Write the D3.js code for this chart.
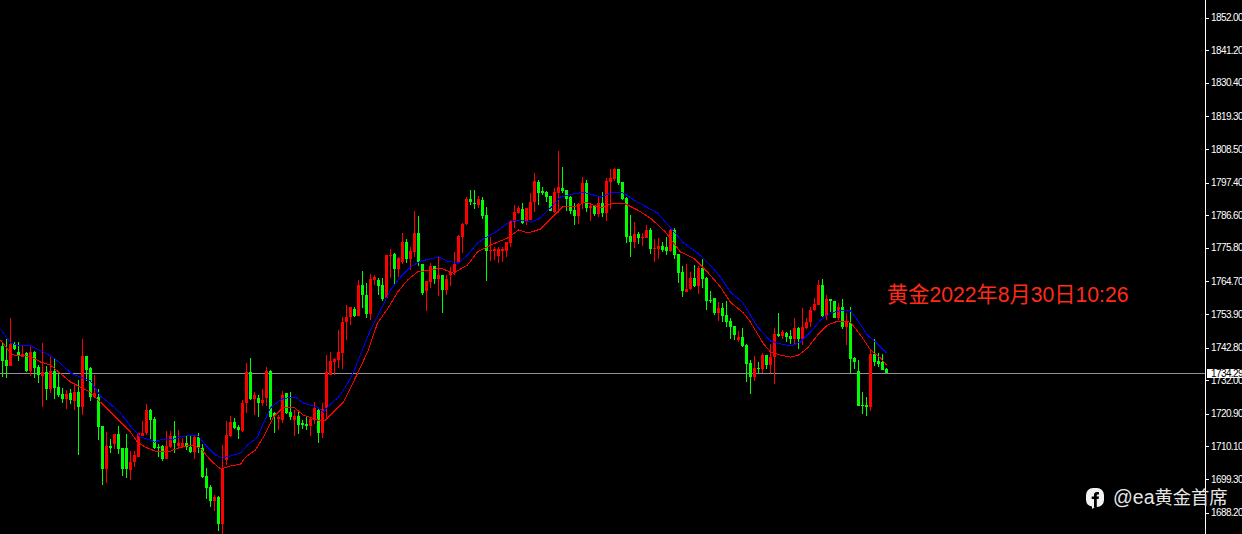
<!DOCTYPE html>
<html lang="zh">
<head>
<meta charset="UTF-8">
<title>黄金</title>
<script src="https://d3js.org/d3.v7.min.js"></script>
<style>
html,body{margin:0;padding:0;background:#000;overflow:hidden}
svg{display:block}
.axis text{font:10px "Liberation Sans",Arial,sans-serif;fill:#fff;letter-spacing:-0.6px}
.axis line{stroke:#fff}
.axis path{display:none}
</style>
</head>
<body>
<svg id="chart" width="1242" height="534"></svg>
<script>
// candles, oldest first
const highs = [
1744.3,1745.6,1752.6,1744.6,1744.6,1743.3,1741.3,1743.0,1741.7,1736.9,
1744.3,1736.6,1739.7,1739.4,1734.3,1729.4,1728.7,1729.0,1730.3,1732.0,
1745.6,1740.0,1736.3,1733.6,1729.0,1716.8,1714.8,1712.5,1714.2,1716.8,
1709.6,1714.2,1708.6,1708.6,1714.5,1718.5,1724.1,1722.4,1719.8,1710.9,
1710.5,1715.2,1715.2,1718.5,1715.5,1712.9,1713.5,1713.5,1713.8,1714.5,
1710.9,1702.9,1697.2,1693.9,1693.6,1710.5,1718.5,1720.1,1719.5,1717.1,
1725.4,1737.6,1739.4,1728.0,1727.0,1729.0,1736.3,1735.3,1721.4,1720.4,
1728.4,1727.7,1728.0,1722.1,1721.4,1718.8,1719.8,1719.8,1724.7,1722.8,
1724.4,1740.3,1741.3,1739.4,1748.6,1752.9,1756.8,1756.2,1756.2,1765.1,
1768.1,1764.1,1767.1,1766.7,1765.8,1765.8,1773.4,1775.4,1774.1,1772.8,
1780.7,1778.7,1776.1,1788.0,1786.3,1770.4,1764.8,1770.7,1769.7,1772.8,
1766.7,1766.7,1769.4,1774.4,1780.0,1784.0,1792.6,1794.9,1794.9,1792.9,
1792.6,1789.3,1779.4,1776.1,1776.1,1776.1,1777.7,1785.0,1789.9,1789.6,
1790.6,1789.0,1793.9,1800.5,1798.2,1795.9,1794.6,1792.9,1795.6,1807.9,
1802.5,1794.9,1792.9,1790.6,1790.6,1799.2,1798.2,1790.6,1789.9,1792.6,
1794.2,1798.9,1801.8,1802.2,1801.8,1797.5,1792.6,1786.6,1784.3,1781.0,
1780.7,1783.3,1782.4,1778.7,1779.1,1777.7,1779.4,1782.7,1782.4,1773.8,
1769.7,1770.4,1767.7,1770.0,1769.7,1772.1,1766.1,1761.5,1759.2,1757.8,
1757.5,1758.2,1752.6,1749.9,1748.3,1749.3,1744.0,1738.6,1740.0,1737.9,
1741.0,1740.3,1744.0,1749.3,1754.2,1748.6,1747.9,1748.6,1752.6,1749.6,
1755.9,1752.6,1756.2,1759.2,1765.1,1765.4,1760.1,1758.8,1758.2,1757.5,
1758.8,1754.2,1756.2,1739.7,1738.6,1728.0,1726.3,1742.0,1745.6,1741.0,
1740.7,1736.0];
const lows = [
1733.0,1732.7,1736.6,1742.0,1738.3,1739.6,1734.6,1733.3,1732.7,1731.0,
1723.1,1725.4,1727.7,1725.7,1726.3,1724.4,1722.4,1724.1,1722.1,1707.2,
1720.4,1731.7,1725.0,1726.0,1712.2,1697.2,1697.9,1707.9,1709.2,1707.5,
1700.2,1699.6,1698.9,1703.2,1706.5,1713.5,1713.8,1712.2,1709.2,1706.5,
1705.2,1705.9,1709.6,1707.9,1709.2,1709.6,1708.9,1707.9,1705.9,1707.9,
1699.6,1692.6,1690.0,1688.7,1682.0,1681.0,1703.9,1713.2,1715.8,1712.5,
1714.8,1721.1,1725.4,1720.4,1719.8,1723.4,1723.4,1718.8,1714.5,1715.5,
1717.8,1720.8,1718.8,1713.5,1714.2,1715.8,1715.5,1713.5,1717.5,1711.2,
1712.9,1718.8,1733.6,1733.6,1736.0,1735.6,1745.3,1750.2,1752.9,1753.2,
1755.8,1752.6,1751.9,1763.4,1760.1,1758.2,1758.8,1765.8,1763.8,1766.1,
1770.4,1770.7,1768.4,1772.8,1769.7,1760.1,1754.8,1762.5,1763.8,1759.8,
1754.2,1760.1,1763.1,1766.7,1770.7,1774.1,1783.3,1790.0,1788.6,1788.9,
1785.3,1764.8,1771.4,1771.7,1770.7,1771.1,1772.8,1776.1,1782.4,1786.9,
1783.7,1783.3,1785.0,1787.6,1790.0,1793.3,1791.0,1788.0,1787.3,1787.3,
1793.9,1788.0,1787.0,1783.3,1783.7,1788.6,1787.6,1784.7,1786.3,1786.0,
1786.0,1784.7,1788.6,1797.9,1796.6,1791.6,1777.4,1772.8,1775.7,1777.1,
1776.4,1779.1,1773.8,1771.1,1772.1,1774.4,1773.4,1774.4,1772.1,1764.1,
1759.5,1761.1,1761.8,1762.8,1760.5,1762.5,1755.2,1757.5,1753.6,1751.6,
1751.2,1749.6,1745.6,1745.3,1744.6,1742.9,1731.4,1727.4,1731.7,1734.3,
1734.3,1735.6,1734.3,1730.7,1746.3,1745.6,1744.6,1743.9,1743.9,1742.3,
1743.6,1748.9,1749.6,1754.8,1756.8,1752.9,1751.9,1754.5,1752.6,1751.9,
1748.9,1743.6,1734.3,1735.6,1723.4,1720.8,1720.1,1721.8,1736.6,1736.3,
1735.3,1734.3];
const opens = [
1743.3,1738.6,1736.6,1744.0,1741.3,1739.7,1741.0,1735.0,1741.3,1736.3,
1733.3,1734.6,1729.0,1735.0,1729.7,1727.4,1725.7,1727.7,1725.1,1728.0,
1723.1,1740.0,1736.0,1726.4,1726.4,1716.8,1702.5,1710.2,1710.9,1714.2,
1709.5,1709.5,1702.2,1704.9,1706.5,1713.5,1714.5,1722.1,1719.1,1709.8,
1710.2,1705.9,1709.8,1713.5,1710.2,1710.2,1711.2,1709.8,1708.2,1713.2,
1709.5,1700.2,1696.6,1692.0,1693.3,1684.4,1705.5,1713.5,1718.1,1716.5,
1715.1,1724.4,1734.7,1725.7,1726.1,1724.4,1726.1,1735.0,1721.1,1719.1,
1718.8,1727.7,1721.4,1718.8,1720.1,1717.8,1717.5,1716.8,1718.8,1722.1,
1714.5,1722.8,1733.7,1738.0,1738.6,1741.0,1751.2,1752.9,1755.5,1753.2,
1763.5,1760.2,1753.9,1765.1,1765.1,1763.5,1759.2,1773.1,1773.7,1768.8,
1771.1,1777.7,1772.1,1774.4,1780.7,1770.4,1761.5,1764.5,1769.8,1765.4,
1766.8,1761.8,1766.8,1767.8,1771.1,1779.4,1783.7,1791.9,1790.6,1789.9,
1791.6,1786.6,1774.7,1774.7,1773.1,1774.7,1774.7,1777.4,1784.3,1787.3,
1788.6,1784.3,1785.0,1790.9,1797.6,1794.6,1794.2,1792.9,1787.6,1793.9,
1795.6,1794.9,1792.6,1788.3,1786.3,1790.6,1797.2,1789.0,1789.6,1787.0,
1790.6,1787.3,1797.6,1798.5,1801.9,1797.6,1792.3,1779.7,1777.7,1780.3,
1779.0,1779.0,1781.7,1775.4,1775.4,1776.4,1776.0,1774.7,1781.7,1773.7,
1767.8,1761.1,1762.1,1765.8,1763.1,1769.1,1765.8,1758.5,1759.2,1754.2,
1755.9,1753.5,1751.5,1749.9,1745.3,1746.3,1743.6,1737.6,1733.0,1736.0,
1735.7,1740.3,1737.0,1739.6,1747.2,1746.6,1747.6,1746.6,1745.6,1749.2,
1745.6,1749.2,1751.2,1755.2,1756.8,1763.5,1753.2,1758.8,1758.2,1752.5,
1756.2,1749.6,1750.9,1739.3,1735.0,1723.7,1723.7,1723.1,1740.6,1738.3,
1738.0,1735.7];
const closes = [
1738.3,1736.6,1744.0,1742.3,1740.0,1740.6,1735.0,1741.3,1736.0,1733.7,
1734.7,1729.0,1735.0,1729.4,1727.1,1725.7,1727.4,1725.4,1728.0,1723.1,
1740.0,1735.3,1726.4,1727.7,1716.5,1702.5,1710.2,1709.5,1714.2,1709.2,
1702.5,1702.5,1704.9,1707.2,1714.5,1714.5,1722.1,1718.8,1709.5,1709.5,
1705.9,1710.2,1713.5,1711.2,1711.2,1711.2,1709.8,1708.2,1713.2,1709.5,
1699.9,1696.3,1692.0,1693.3,1684.4,1702.9,1713.8,1718.1,1716.1,1715.5,
1724.4,1734.7,1725.7,1727.0,1724.4,1725.4,1735.0,1719.8,1720.1,1719.8,
1727.0,1721.1,1719.8,1720.1,1717.1,1717.1,1716.8,1719.1,1722.8,1714.5,
1722.4,1734.7,1738.3,1739.0,1741.3,1751.2,1752.9,1756.2,1753.2,1763.5,
1760.2,1753.9,1765.4,1766.1,1763.1,1758.8,1773.4,1773.4,1768.8,1772.4,
1777.7,1772.1,1774.7,1780.7,1771.1,1760.8,1764.8,1769.8,1765.4,1766.8,
1761.8,1765.4,1767.8,1770.4,1779.7,1783.7,1791.9,1790.9,1790.3,1791.9,
1786.3,1774.7,1775.0,1775.4,1775.4,1775.4,1777.7,1784.6,1787.6,1789.0,
1784.0,1789.0,1790.9,1797.9,1793.9,1793.9,1792.6,1788.0,1794.2,1795.9,
1794.6,1791.9,1788.0,1786.3,1790.3,1797.2,1789.0,1789.6,1787.0,1790.6,
1787.3,1797.9,1798.9,1801.9,1797.2,1791.9,1779.4,1777.7,1780.3,1779.0,
1779.4,1781.7,1775.4,1775.7,1776.4,1775.0,1774.7,1781.7,1773.4,1767.4,
1761.5,1762.1,1765.8,1763.1,1769.1,1765.4,1758.2,1758.2,1754.2,1755.9,
1753.2,1751.2,1749.6,1746.9,1746.3,1743.3,1737.3,1733.0,1736.0,1735.7,
1740.3,1737.0,1739.6,1747.2,1746.6,1747.9,1746.3,1745.6,1749.2,1745.6,
1749.6,1751.2,1755.2,1757.2,1763.5,1753.2,1758.8,1758.2,1752.5,1756.2,
1749.6,1751.5,1739.0,1738.0,1723.4,1723.4,1723.1,1740.6,1738.0,1737.3,
1735.3,1734.3];

// moving averages, read at these bar positions
const blueBars = [-0.5,2,4.5,7,9.5,12,14.5,17,19.5,22,24.5,27,29.5,32,34.5,37,38,39.5,42,44.5,47,49,50.75,53.25,55,59.5,61.25,63.75,65.25,67,68.75,70.25,73.25,75.25,78.75,80.25,82,84,85.75,87.75,90.25,92,94.5,97,99.5,102,104.5,107,109,111.25,114,116.25,118.75,120.75,123.75,127,129.5,132,134,137,139.5,142.75,145.25,149.5,152.75,155.25,158.75,163.75,167,170.25,173.75,177,179.5,182,185,188.75,192,194.5,197,199.5,202,204.5,207,210.25,212,213.75,216.25,218.75,221];
const blueValues = [1748.9,1744.3,1743.3,1743.3,1741.7,1740.0,1737.6,1734.3,1733.0,1731.7,1726.7,1724.1,1721.1,1716.8,1713.2,1712.2,1711.5,1712.2,1712.2,1713.2,1713.8,1713.5,1710.5,1707.2,1706.2,1707.9,1710.5,1713.2,1717.8,1722.8,1724.7,1726.0,1726.3,1724.4,1723.1,1721.4,1724.1,1726.3,1729.7,1734.6,1743.0,1748.6,1755.2,1761.8,1766.1,1769.4,1771.4,1772.1,1772.8,1771.4,1770.7,1773.4,1777.4,1779.1,1781.4,1784.7,1785.0,1784.3,1785.3,1789.0,1792.6,1793.6,1794.2,1792.6,1794.2,1793.9,1790.9,1787.3,1782.4,1777.4,1774.1,1770.0,1766.1,1761.1,1757.8,1749.6,1744.9,1744.0,1743.3,1744.6,1747.9,1751.9,1754.2,1755.2,1754.9,1751.9,1746.9,1744.0,1741.0];
const redBars = [-0.5,2,3.25,5.75,7.75,9.5,12,14,17,19.5,22,24.5,27,29.5,32,33.75,35.75,38.25,42,44.5,47,49.5,52,54.5,57,59.5,60.75,63.25,65.25,67.75,70,72.75,75.25,78.75,80.75,83.25,85.25,87,89.5,91.5,93.75,96.25,98.75,101.25,103.75,107,109.5,112.75,116.25,118.75,122,126.25,129,131.5,134.5,137,140.25,143.25,145.75,149.5,152.75,155.25,158.75,162,165.75,169.5,172.75,176.25,179.5,182,185.25,187,190.25,192,194.5,197,199,201.25,203.75,206.25,208.75,212,214.5,217,219.5,221];
const redValues = [1745.3,1741.0,1740.0,1740.0,1739.3,1738.0,1737.0,1734.7,1731.4,1729.7,1728.0,1724.7,1721.4,1718.1,1714.8,1711.5,1709.8,1708.5,1708.5,1709.8,1710.5,1709.5,1705.5,1702.6,1703.6,1704.2,1706.5,1708.9,1713.2,1719.8,1722.8,1723.1,1720.4,1718.8,1718.8,1722.1,1724.7,1729.4,1736.3,1742.0,1750.9,1755.5,1761.1,1765.1,1767.8,1768.4,1769.1,1767.4,1770.1,1774.4,1776.7,1779.0,1781.7,1780.7,1782.0,1785.3,1789.6,1789.6,1790.9,1789.0,1790.6,1790.6,1788.3,1785.6,1781.0,1774.4,1772.4,1767.8,1762.8,1757.8,1754.2,1751.2,1744.0,1741.3,1740.3,1739.6,1740.3,1742.6,1746.9,1750.2,1751.5,1751.2,1746.9,1742.0,1739.3,1737.0];

const priceTicks = [1852.0,1841.2,1830.4,1819.3,1808.5,1797.4,1786.6,1775.8,1764.7,1753.9,1742.8,1732.0,1720.9,1710.1,1699.3,1688.2];
const lastPrice = 1734.29;

const svg = d3.select('#chart');
const width = 1242, height = 534, axisX = 1205;
const UP = '#ff0000', DOWN = '#00ff00';
const LATIN = '"Liberation Sans",Arial,sans-serif';
const CJK = '"Liberation Sans","Noto Sans CJK SC",sans-serif';

svg.append('rect').attr('width', width).attr('height', height).attr('fill', '#000');

const x = d3.scaleLinear().domain([0, 221]).range([2, 886]);
const y = d3.scaleLinear().domain([1688.2, 1852]).range([512.5, 17.5]);
const py = v => Math.round(y(v));

// last price line sits under the candles
svg.append('rect')
  .attr('x', 0).attr('y', py(lastPrice)).attr('width', axisX).attr('height', 1)
  .attr('fill', '#8f9499');

const candles = svg.append('g').attr('shape-rendering', 'crispEdges')
  .selectAll('g').data(d3.range(highs.length)).join('g')
  .attr('fill', i => closes[i] >= opens[i] ? UP : DOWN);

candles.append('rect')
  .attr('x', i => x(i))
  .attr('width', 1)
  .attr('y', i => py(highs[i]))
  .attr('height', i => Math.max(1, py(lows[i]) - py(highs[i])));

candles.append('rect')
  .attr('x', i => x(i) - 1)
  .attr('width', 3)
  .attr('y', i => py(Math.max(opens[i], closes[i])))
  .attr('height', i => Math.max(1, py(Math.min(opens[i], closes[i])) - py(Math.max(opens[i], closes[i]))));

const maLine = d3.line().x(d => x(d[0]) + 0.5).y(d => y(d[1]));
svg.append('path').datum(d3.zip(blueBars, blueValues))
  .attr('d', maLine).attr('fill', 'none').attr('stroke', '#0000ff').attr('stroke-width', 1).attr('shape-rendering', 'crispEdges');
svg.append('path').datum(d3.zip(redBars, redValues))
  .attr('d', maLine).attr('fill', 'none').attr('stroke', '#ff0000').attr('stroke-width', 1).attr('shape-rendering', 'crispEdges');

// price axis
svg.append('rect').attr('x', axisX).attr('y', 0).attr('width', 1).attr('height', height).attr('fill', '#fff');
const axis = svg.append('g').attr('class', 'axis')
  .attr('transform', `translate(${axisX + 0.5},0)`)
  .attr('shape-rendering', 'crispEdges')
  .call(d3.axisRight(y).tickValues(priceTicks).tickFormat(d3.format('.2f')).tickSize(3).tickPadding(2));
axis.selectAll('.tick text').attr('x', 5.5);

// last price tag
svg.append('rect').attr('x', 1207).attr('y', py(lastPrice) - 4).attr('width', 35).attr('height', 9).attr('fill', '#fff');
svg.append('text').attr('x', 1211).attr('y', py(lastPrice) + 4)
  .attr('font-family', LATIN).attr('font-size', 10).attr('letter-spacing', '-0.6px').attr('fill', '#000')
  .text(d3.format('.2f')(lastPrice));

// annotation
svg.append('text').attr('x', 887).attr('y', 302)
  .attr('font-family', CJK).attr('font-size', 21.2).attr('fill', '#ff2a1a')
  .text('黄金2022年8月30日10:26');

// watermark
const mark = svg.append('g').attr('transform', 'translate(1086,488)');
mark.append('path').attr('fill', '#f2f2f2')
  .attr('d', 'M7 0H11A7 7 0 0 1 18 7V12A7 7 0 0 1 11 19H9L6 21V18.4A7 7 0 0 1 0 12V7A7 7 0 0 1 7 0Z');
mark.append('path').attr('fill', '#000')
  .attr('d', 'M8 19V11H5.7V8.4H8V6.8C8 4.9 9.2 4 11 4C11.7 4 12.5 4.1 13 4.2V6.5H11.9C11 6.5 10.8 6.9 10.8 7.6V8.4H13L12.6 11H10.8V19Z');
const water = svg.append('text').attr('x', 1113).attr('y', 504).attr('fill', '#e6e6e6');
water.append('tspan').attr('font-family', LATIN).attr('font-size', 19.5).text('@ea');
water.append('tspan').attr('font-family', CJK).attr('font-size', 18.3).text('黄金首席');
</script>
</body>
</html>
